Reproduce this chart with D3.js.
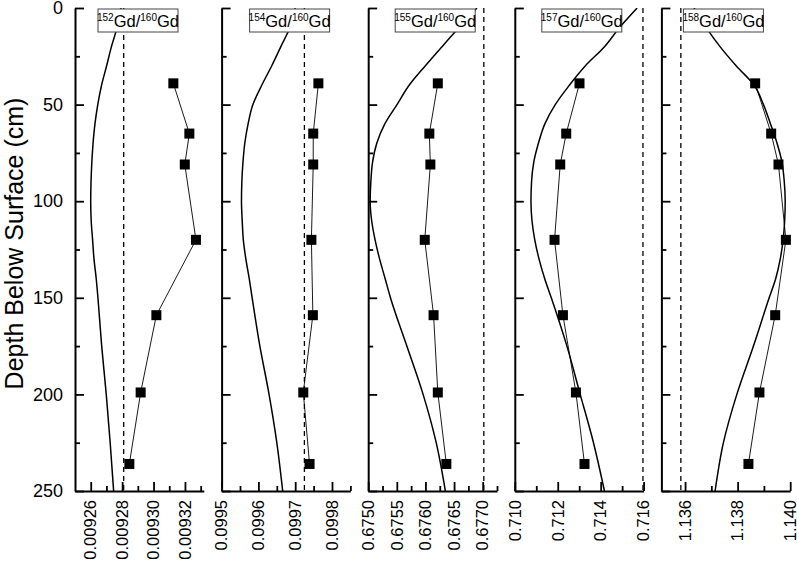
<!DOCTYPE html>
<html>
<head>
<meta charset="utf-8">
<script src="https://cdn.jsdelivr.net/npm/d3@7"></script>
<style>
  body { margin: 0; background: #fff; }
  svg { font-family: "Liberation Sans", Arial, sans-serif; }
</style>
</head>
<body>
<div id="chart"></div>
<script>
// Sample depths (cm) for the measured ratios
const depths = [39, 65, 81, 120, 159, 199, 236];

// Measured isotope ratios (squares)
const ratio152 = [0.0093126, 0.0093228, 0.0093199, 0.0093270, 0.0093018, 0.0092918, 0.0092846];
const ratio154 = [0.099763, 0.099749, 0.099749, 0.099744, 0.099748, 0.099722, 0.099739];
const ratio155 = [0.676216, 0.676068, 0.676086, 0.675988, 0.676142, 0.676216, 0.676365];
const ratio157 = [0.713014, 0.712395, 0.712116, 0.711851, 0.712242, 0.712847, 0.713247];
const ratio158 = [1.138667, 1.139276, 1.139554, 1.139836, 1.139429, 1.138830, 1.138411];

// Model profile depths and values
const modelDepth = [0, 10, 20, 30, 40, 50, 60, 70, 80, 90, 100, 110, 120, 130, 140, 150, 175, 200, 225, 250];
const model152 = [0.0092793, 0.0092768, 0.0092732, 0.0092701, 0.0092669, 0.0092645, 0.0092627, 0.0092615, 0.0092607, 0.0092602,
                  0.0092600, 0.0092603, 0.0092612, 0.0092621, 0.0092635, 0.0092646, 0.0092670, 0.0092699, 0.0092724, 0.0092746];
const model154 = [0.099700, 0.099686, 0.099661, 0.099636, 0.099609, 0.099585, 0.099572, 0.099563, 0.099558, 0.099555,
                  0.099554, 0.099556, 0.099559, 0.099566, 0.099575, 0.099583, 0.099604, 0.099629, 0.099650, 0.099666];
const model155 = [0.676900, 0.676590, 0.676290, 0.675995, 0.675715, 0.675503, 0.675290, 0.675150, 0.675075, 0.675046,
                  0.675034, 0.675060, 0.675120, 0.675200, 0.675295, 0.675389, 0.675675, 0.675959, 0.676188, 0.676348];
const model157 = [0.715700, 0.714890, 0.714180, 0.713280, 0.712540, 0.711884, 0.711400, 0.711100, 0.710880, 0.710780,
                  0.710753, 0.710800, 0.710930, 0.711130, 0.711390, 0.711700, 0.712428, 0.713047, 0.713665, 0.714177];
const model158 = [1.136343, 1.136800, 1.137330, 1.137950, 1.138630, 1.138983, 1.139250, 1.139500, 1.139690, 1.139775,
                  1.139810, 1.139790, 1.139730, 1.139620, 1.139450, 1.139200, 1.138602, 1.137970, 1.137459, 1.137143];

// Reference (dashed) ratios
const refRatios = [0.009281, 0.099725, 0.677020, 0.715970, 1.135840];

// Isotope labels
const isotopes = ["152", "154", "155", "157", "158"];

// Axis ticks
const depthTicks = [0, 50, 100, 150, 200, 250];
const depthMinor = [25, 75, 125, 175, 225];
const xTicks = [
  [0.00926, 0.00928, 0.00930, 0.00932],
  [0.0995, 0.0996, 0.0997, 0.0998],
  [0.6750, 0.6755, 0.6760, 0.6765, 0.6770],
  [0.710, 0.712, 0.714, 0.716],
  [1.136, 1.138, 1.140]
];
const xMinor = [
  [0.00927, 0.00929, 0.00931, 0.00933],
  [0.09955, 0.09965, 0.09975, 0.09985],
  [0.67525, 0.67575, 0.67625, 0.67675, 0.67725],
  [0.711, 0.713, 0.715],
  [1.137, 1.139]
];
const xFormats = [".5f", ".4f", ".4f", ".3f", ".3f"];
const xDomains = [
  [0.00925, 0.009332],
  [0.0995, 0.09985],
  [0.675, 0.67725],
  [0.710, 0.716],
  [1.1351, 1.140]
];

const ratios = [ratio152, ratio154, ratio155, ratio157, ratio158];
const models = [model152, model154, model155, model157, model158];

// Layout
const W = 797, H = 563;
const plotTop = 8, plotBottom = 491;
const panelLeft0 = 75, panelStep = 146.6, panelW = 128.8;
const boxOffset = [23, 28, 27, 27, 22];

const svg = d3.select("#chart").append("svg")
  .attr("width", W)
  .attr("height", H);

const y = d3.scaleLinear().domain([0, 250]).range([plotTop, plotBottom]);

// Y axis title
svg.append("text")
  .attr("transform", `translate(14, ${(plotTop + plotBottom) / 2 - 6}) rotate(-90)`)
  .attr("text-anchor", "middle")
  .attr("dominant-baseline", "central")
  .style("font-size", "25px")
  .text("Depth Below Surface (cm)");

isotopes.forEach((iso, i) => {
  const left = panelLeft0 + i * panelStep;
  const g = svg.append("g").attr("transform", `translate(${left},0)`);
  const x = d3.scaleLinear().domain(xDomains[i]).range([0, panelW]);

  const clipId = "clip" + i;
  g.append("clipPath").attr("id", clipId)
    .append("rect").attr("x", 0).attr("y", plotTop).attr("width", panelW).attr("height", plotBottom - plotTop);

  // model profile
  const modelData = modelDepth.map((d, k) => ({ d: d, v: models[i][k] }));
  g.append("path")
    .datum(modelData)
    .attr("clip-path", `url(#${clipId})`)
    .attr("fill", "none")
    .attr("stroke", "#000")
    .attr("stroke-width", 1.5)
    .attr("d", d3.line()
      .x(d => x(d.v))
      .y(d => y(d.d))
      .curve(d3.curveMonotoneY));

  // reference ratio
  g.append("line")
    .attr("x1", x(refRatios[i])).attr("x2", x(refRatios[i]))
    .attr("y1", y(0)).attr("y2", y(250))
    .attr("stroke", "#000")
    .attr("stroke-width", 1.3)
    .attr("stroke-dasharray", "5,4");

  // measured ratios
  const pts = depths.map((d, k) => ({ d: d, v: ratios[i][k] }));
  g.append("path")
    .datum(pts)
    .attr("fill", "none")
    .attr("stroke", "#000")
    .attr("stroke-width", 0.9)
    .attr("d", d3.line().x(d => x(d.v)).y(d => y(d.d)));
  g.append("g")
    .selectAll("rect")
    .data(pts)
    .join("rect")
    .attr("x", d => x(d.v) - 5)
    .attr("y", d => y(d.d) - 5)
    .attr("width", 10)
    .attr("height", 10)
    .attr("fill", "#000");

  // y axis (ticks inward)
  const yAx = g.append("g")
    .call(d3.axisLeft(y).tickValues(depthTicks).tickSize(-9).tickSizeOuter(0).tickPadding(12)
      .tickFormat(i === 0 ? d3.format("d") : ""));
  g.append("g")
    .call(d3.axisLeft(y).tickValues(depthMinor).tickSize(-5).tickFormat(""))
    .call(a => a.select(".domain").remove());

  // x axis (ticks inward, rotated labels)
  const xAx = g.append("g")
    .attr("transform", `translate(0,${plotBottom})`)
    .call(d3.axisBottom(x).tickValues(xTicks[i]).tickSize(-9).tickSizeOuter(0)
      .tickFormat(d3.format(xFormats[i])));
  xAx.selectAll("text")
    .attr("transform", "rotate(-90)")
    .attr("x", -9)
    .attr("y", 0)
    .attr("dy", "0.32em")
    .style("text-anchor", "end");
  g.append("g")
    .attr("transform", `translate(0,${plotBottom})`)
    .call(d3.axisBottom(x).tickValues(xMinor[i].filter(v => v <= xDomains[i][1] + 1e-9)).tickSize(-5).tickFormat(""))
    .call(a => a.select(".domain").remove());

  yAx.select(".domain").attr("stroke-width", 2);
  xAx.select(".domain").attr("stroke-width", 2);
  yAx.selectAll("text").style("font-size", "18px").attr("fill", "#000");
  xAx.selectAll("text").style("font-size", "16.5px").attr("fill", "#000");
  g.selectAll(".tick line").attr("stroke-width", 1.8);

  // isotope label box
  const bx = boxOffset[i];
  g.append("rect")
    .attr("x", bx).attr("y", 9)
    .attr("width", 80).attr("height", 23)
    .attr("fill", "#fff")
    .attr("stroke", "#444")
    .attr("stroke-width", 1);
  const t = g.append("text")
    .attr("x", bx + 40).attr("y", 27)
    .attr("text-anchor", "middle")
    .style("font-size", "16.5px");
  t.append("tspan").attr("dy", "-6").style("font-size", "10px").text(iso);
  t.append("tspan").attr("dy", "6").text("Gd/");
  t.append("tspan").attr("dy", "-6").style("font-size", "10px").text("160");
  t.append("tspan").attr("dy", "6").text("Gd");
});
</script>
</body>
</html>
